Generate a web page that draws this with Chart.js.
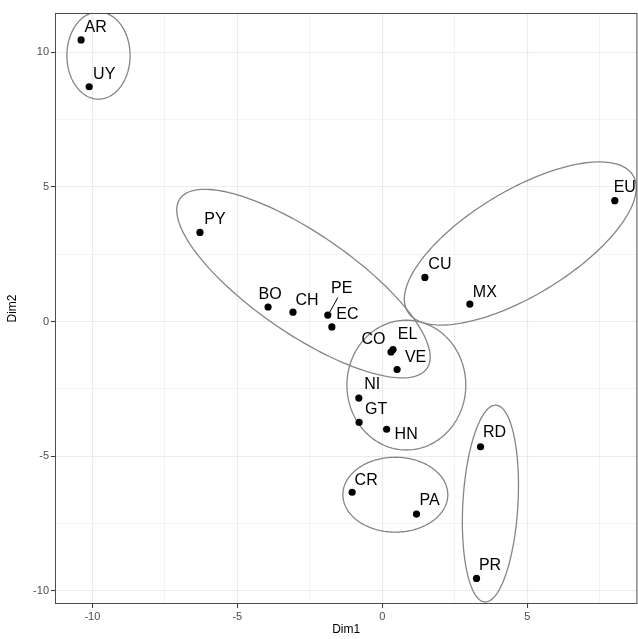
<!DOCTYPE html>
<html>
<head>
<meta charset="utf-8">
<script src="https://cdn.jsdelivr.net/npm/chart.js@4/dist/chart.umd.min.js"></script>
<style>
  body { margin: 0; background: #fff; overflow: hidden; }
  #wrap { width: 641px; height: 639px; }
</style>
</head>
<body>
<div id="wrap"><canvas id="clusterChart"></canvas></div>
<script>
// countries and their coordinates on the first two dimensions
const countries = ['AR', 'UY', 'PY', 'BO', 'CH', 'PE', 'EC', 'CO', 'EL', 'VE',
                   'NI', 'GT', 'HN', 'CU', 'MX', 'EU', 'RD', 'CR', 'PA', 'PR'];
const dim1 = [-10.39, -10.11, -6.29, -3.94, -3.08, -1.88, -1.74, 0.30, 0.37, 0.51,
              -0.81, -0.80, 0.15, 1.47, 3.02, 8.02, 3.39, -1.04, 1.18, 3.25];
const dim2 = [10.46, 8.72, 3.31, 0.54, 0.35, 0.24, -0.20, -1.13, -1.04, -1.78,
              -2.84, -3.74, -4.00, 1.64, 0.65, 4.49, -4.65, -6.34, -7.15, -9.54];

// cluster ellipses: centre, semi-axes and rotation (degrees), all in data units
const ellipseCx = [-9.79, -2.72, 4.76, 0.83, 0.45, 3.73];
const ellipseCy = [9.88, 1.41, 2.90, -2.36, -6.43, -6.76];
const ellipseA = [1.09, 5.30, 4.64, 2.05, 1.81, 3.66];
const ellipseB = [1.62, 1.81, 1.91, 2.41, 1.39, 0.95];
const ellipseRot = [0, -37, 33.8, 0, 0, 87];

// axis ticks
const majorTicks = [-10, -5, 0, 5, 10];
const minorTicks = [-7.5, -2.5, 2.5, 7.5];

const allTicks = majorTicks.concat(minorTicks).sort((a, b) => a - b);
const isMajor = v => majorTicks.includes(v);

const points = countries.map((c, i) => ({ x: dim1[i], y: dim2[i], label: c }));

const ellipsePlugin = {
  id: 'ellipses',
  beforeDatasetsDraw(chart) {
    const { ctx, scales: { x, y }, chartArea } = chart;
    ctx.save();
    ctx.beginPath();
    ctx.rect(chartArea.left, chartArea.top, chartArea.width, chartArea.height);
    ctx.clip();
    ctx.strokeStyle = '#858585';
    ctx.lineWidth = 1.3;
    ellipseCx.forEach((cx, k) => {
      const r = ellipseRot[k] * Math.PI / 180;
      ctx.beginPath();
      for (let s = 0; s <= 180; s++) {
        const t = s / 180 * 2 * Math.PI;
        const ex = ellipseA[k] * Math.cos(t), ey = ellipseB[k] * Math.sin(t);
        const dx = cx + ex * Math.cos(r) - ey * Math.sin(r);
        const dy = ellipseCy[k] + ex * Math.sin(r) + ey * Math.cos(r);
        const px = x.getPixelForValue(dx), py = y.getPixelForValue(dy);
        if (s === 0) ctx.moveTo(px, py); else ctx.lineTo(px, py);
      }
      ctx.closePath();
      ctx.stroke();
    });
    ctx.restore();
  }
};

// country codes next to each point (pixel nudges keep them off the dots)
const labelNudge = {
  AR: [14.5, -12.5], UY: [15, -12], PY: [15, -13], BO: [2, -12], CH: [14, -12],
  PE: [14, -26.5], EC: [15.5, -12.5], CO: [-17.5, -12.5], EL: [14.5, -15],
  VE: [18.5, -12], NI: [13.5, -13.5], GT: [17, -12.5], HN: [19.5, 5],
  CU: [15, -13], MX: [15, -11.5], EU: [10, -13.5], RD: [14, -14],
  CR: [14, -12], PA: [13, -13.5], PR: [13.5, -13]
};

const labelPlugin = {
  id: 'pointLabels',
  afterDatasetsDraw(chart) {
    const { ctx } = chart;
    const meta = chart.getDatasetMeta(0);
    ctx.save();
    ctx.font = '16px "Liberation Sans", Arial, sans-serif';
    ctx.fillStyle = '#000';
    ctx.textAlign = 'center';
    ctx.textBaseline = 'middle';
    meta.data.forEach((el, i) => {
      const code = countries[i];
      const [dx, dy] = labelNudge[code];
      const lx = el.x + dx, ly = el.y + dy;
      if (code === 'PE') {
        // PE sits away from its point, so link them
        ctx.strokeStyle = '#000';
        ctx.lineWidth = 1;
        ctx.beginPath();
        ctx.moveTo(el.x + 2, el.y - 3);
        ctx.lineTo(lx - 4, ly + 9);
        ctx.stroke();
      }
      ctx.fillText(code, lx, ly);
    });
    ctx.restore();
  }
};

const borderPlugin = {
  id: 'panelBorder',
  afterDraw(chart) {
    const { ctx, chartArea: a } = chart;
    ctx.save();
    ctx.strokeStyle = '#4d4d4d';
    ctx.lineWidth = 1;
    ctx.strokeRect(a.left + 0.5, a.top + 0.5, a.width - 1, a.height - 1);
    ctx.restore();
  }
};

const tickFont = { family: '"Liberation Sans", Arial, sans-serif', size: 11 };
const titleFont = { family: '"Liberation Sans", Arial, sans-serif', size: 12 };

function axis(min, max, title, fit) {
  return {
    type: 'linear',
    min: min,
    max: max,
    // only the ticks that fall inside the panel
    afterBuildTicks: scale => {
      scale.ticks = allTicks.filter(v => v >= min && v <= max).map(v => ({ value: v }));
    },
    afterFit: fit,
    ticks: {
      color: '#4d4d4d',
      font: tickFont,
      padding: 2,
      autoSkip: false,
      maxRotation: 0,
      callback: v => isMajor(v) ? String(v) : ''
    },
    grid: {
      color: '#ebebeb',
      lineWidth: c => isMajor(c.tick.value) ? 1.1 : 0.6,
      tickLength: 4,
      tickWidth: 1,
      tickColor: c => isMajor(c.tick.value) ? '#333' : 'rgba(0,0,0,0)'
    },
    border: { display: false },
    title: {
      display: true,
      text: title,
      color: '#000',
      font: titleFont,
      padding: { top: 2, bottom: 2 }
    }
  };
}

new Chart(document.getElementById('clusterChart'), {
  type: 'scatter',
  data: {
    datasets: [{
      data: points,
      backgroundColor: '#000',
      borderWidth: 0,
      pointRadius: 3.6,
      pointHoverRadius: 3.6
    }]
  },
  options: {
    responsive: true,
    maintainAspectRatio: false,
    animation: false,
    layout: { padding: { left: 3, top: 13, right: 0, bottom: 0 } },
    scales: {
      x: axis(-11.29, 8.8, 'Dim1', s => { s.height = 35; }),
      y: axis(-10.49, 11.46, 'Dim2', s => { s.width = 52; })
    },
    plugins: {
      legend: { display: false },
      tooltip: { enabled: false }
    }
  },
  plugins: [ellipsePlugin, labelPlugin, borderPlugin]
});
</script>
</body>
</html>
